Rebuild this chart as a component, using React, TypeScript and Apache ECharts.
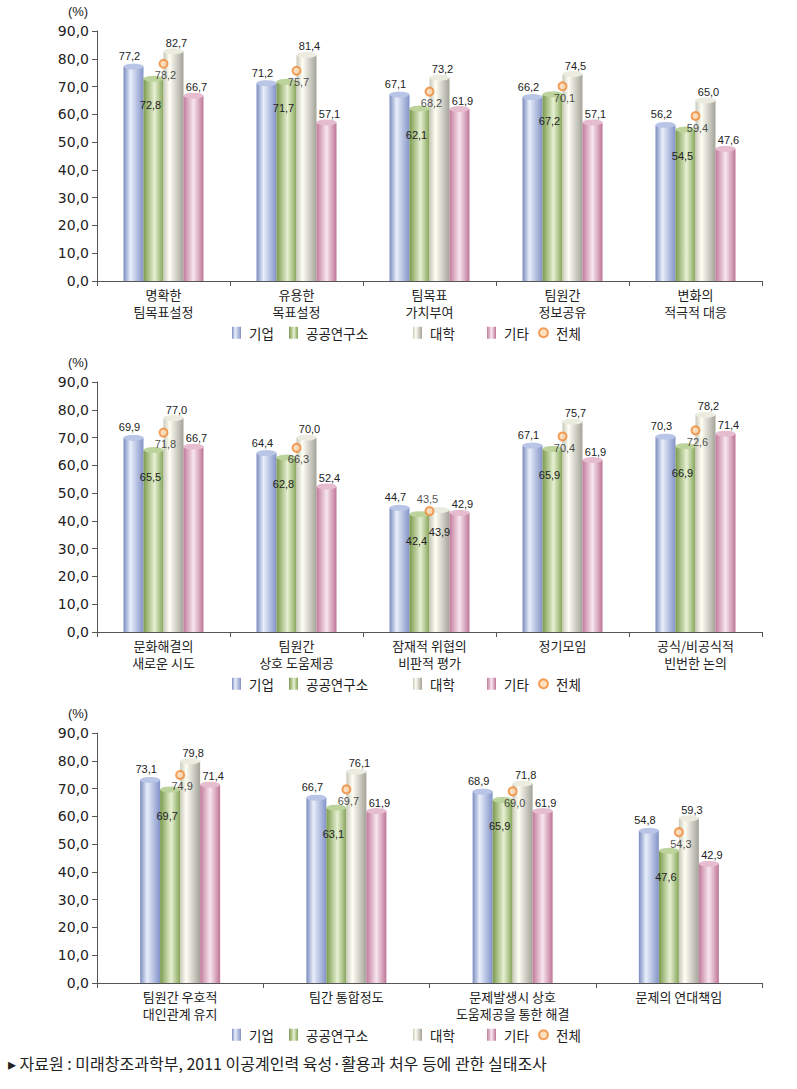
import React, { useEffect, useRef } from 'react';
import * as echarts from 'echarts';

// ---------- data ----------
const SERIES_NAMES = ['기업', '공공연구소', '대학', '기타'];
const TOTAL_NAME = '전체';

const cats1 = ['명확한\n팀목표설정', '유용한\n목표설정', '팀목표\n가치부여', '팀원간\n정보공유', '변화의\n적극적 대응'];
const firm1 = [77.2, 71.2, 67.1, 66.2, 56.2];
const inst1 = [72.8, 71.7, 62.1, 67.2, 54.5];
const univ1 = [82.7, 81.4, 73.2, 74.5, 65.0];
const etc1 = [66.7, 57.1, 61.9, 57.1, 47.6];
const total1 = [78.2, 75.7, 68.2, 70.1, 59.4];

const cats2 = ['문화해결의\n새로운 시도', '팀원간\n상호 도움제공', '잠재적 위협의\n비판적 평가', '정기모임', '공식/비공식적\n빈번한 논의'];
const firm2 = [69.9, 64.4, 44.7, 67.1, 70.3];
const inst2 = [65.5, 62.8, 42.4, 65.9, 66.9];
const univ2 = [77.0, 70.0, 43.9, 75.7, 78.2];
const etc2 = [66.7, 52.4, 42.9, 61.9, 71.4];
const total2 = [71.8, 66.3, 43.5, 70.4, 72.6];

const cats3 = ['팀원간 우호적\n대인관계 유지', '팀간 통합정도', '문제발생시 상호\n도움제공을 통한 해결', '문제의 연대책임'];
const firm3 = [73.1, 66.7, 68.9, 54.8];
const inst3 = [69.7, 63.1, 65.9, 47.6];
const univ3 = [79.8, 76.1, 71.8, 59.3];
const etc3 = [71.4, 61.9, 61.9, 42.9];
const total3 = [74.9, 69.7, 69.0, 54.3];

const yTicks = { min: 0, max: 90, interval: 10 };
const unitLabel = '(%)';
const sourceText = '▸ 자료원 : 미래창조과학부, 2011 이공계인력 육성·활용과 처우 등에 관한 실태조사';

const panels = [
  { cats: cats1, values: [firm1, inst1, univ1, etc1], total: total1 },
  { cats: cats2, values: [firm2, inst2, univ2, etc2], total: total2 },
  { cats: cats3, values: [firm3, inst3, univ3, etc3], total: total3 },
];

// ---------- style ----------
const PANEL_STEP = 351;
const GRID_TOP = 31;
const GRID_H = 250;
const GRID_LEFT = 97;
const GRID_W = 665;
const KR = '"Noto Sans CJK KR", sans-serif';
const NUM = '"Liberation Sans", Arial, sans-serif';

const fmt = (v: number) => v.toFixed(1).replace('.', ',');

const grad = (stops: [number, string][]) =>
  new echarts.graphic.LinearGradient(0, 0, 1, 0, stops.map(([offset, color]) => ({ offset, color })));

const barColors = [
  grad([[0, '#7b8cc0'], [0.35, '#e8eefa'], [1, '#8393c8']]),
  grad([[0, '#7a9a4c'], [0.55, '#e6f0d2'], [1, '#84a456']]),
  grad([[0, '#c8c8ba'], [0.3, '#fefef4'], [1, '#a3a39a']]),
  grad([[0, '#c27a9c'], [0.5, '#f7e6ee'], [1, '#bf7597']]),
];
const capColors = ['#b9c5e6', '#bcd39c', '#ebebe0', '#e6bccf'];

// label placement per bar series: [position, offset]
const labelPos: [string, [number, number]][] = [
  ['top', [-4, 0]],
  ['insideTop', [-3, 16]],
  ['top', [3, 2]],
  ['top', [3, 2]],
];
// panel 2, category 3: 대학 label inside, 전체 label above
const swapped = [{ panel: 1, index: 2 }];
const isSwapped = (p: number, i: number) => swapped.some((s) => s.panel === p && s.index === i);

const legendLefts = [232, 289, 413, 487, 538];
const legendCenterY = 333;

export default function App() {
  const ref = useRef<HTMLDivElement>(null);

  useEffect(() => {
    if (!ref.current) return;
    const chart = echarts.init(ref.current, undefined, { renderer: 'svg' });

    const grid: any[] = [];
    const xAxis: any[] = [];
    const yAxis: any[] = [];
    const series: any[] = [];
    const legend: any[] = [];
    const graphic: any[] = [];

    const labelBase = { show: true, fontSize: 11, fontFamily: NUM, color: '#222' };

    panels.forEach((pn, p) => {
      const top = GRID_TOP + p * PANEL_STEP;
      grid.push({ left: GRID_LEFT, top, width: GRID_W, height: GRID_H, containLabel: false });
      xAxis.push({
        type: 'category',
        gridIndex: p,
        data: pn.cats,
        axisLine: { show: true, lineStyle: { color: '#555', width: 1 } },
        axisTick: { show: true, length: 5, lineStyle: { color: '#555' } },
        axisLabel: { interval: 0, fontSize: 13, fontFamily: KR, color: '#222', lineHeight: 17, margin: 5 },
      });
      yAxis.push({
        type: 'value',
        gridIndex: p,
        min: yTicks.min,
        max: yTicks.max,
        interval: yTicks.interval,
        axisLine: { show: true, lineStyle: { color: '#555', width: 1 } },
        axisTick: { show: true, length: 5, lineStyle: { color: '#555' } },
        splitLine: { show: false },
        axisLabel: { formatter: (v: number) => fmt(v), fontSize: 14, fontFamily: '"DejaVu Sans", sans-serif', color: '#222', margin: 8 },
      });

      pn.values.forEach((vals, s) => {
        const [pos, off] = labelPos[s];
        series.push({
          type: 'bar',
          name: SERIES_NAMES[s],
          xAxisIndex: p,
          yAxisIndex: p,
          barWidth: 20,
          barGap: '0%',
          itemStyle: { color: barColors[s] },
          z: 2,
          data: vals.map((v, i) =>
            s === 2 && isSwapped(p, i)
              ? { value: v, label: { position: 'insideTop', offset: [0, 11] } }
              : v
          ),
          label: { ...labelBase, position: pos, offset: off, formatter: (d: any) => fmt(d.value) },
        });
        series.push({
          type: 'pictorialBar',
          name: SERIES_NAMES[s] + '_cap',
          xAxisIndex: p,
          yAxisIndex: p,
          barWidth: 20,
          barGap: '0%',
          symbol: 'circle',
          symbolSize: [20, 6],
          symbolPosition: 'end',
          symbolOffset: [0, '-50%'],
          itemStyle: { color: capColors[s] },
          silent: true,
          z: 3,
          label: { show: false },
          data: vals,
        });
      });

      series.push({
        type: 'scatter',
        name: TOTAL_NAME,
        xAxisIndex: p,
        yAxisIndex: p,
        symbol: 'circle',
        symbolSize: 8,
        itemStyle: { color: '#fdd8b0', borderColor: '#ef8836', borderWidth: 2 },
        z: 5,
        data: pn.total.map((v, i) =>
          isSwapped(p, i) ? { value: v, label: { position: 'top', distance: 2, offset: [-2, 0] } } : v
        ),
        label: { ...labelBase, position: 'bottom', distance: 1, offset: [2, 0], formatter: (d: any) => fmt(Array.isArray(d.value) ? d.value[1] : d.value) },
      });

      const names = [...SERIES_NAMES, TOTAL_NAME];
      names.forEach((nm, k) => {
        const isTotal = nm === TOTAL_NAME;
        legend.push({
          data: [nm],
          left: legendLefts[k],
          top: legendCenterY + p * PANEL_STEP - 7,
          padding: 0,
          itemWidth: 9,
          itemHeight: isTotal ? 9 : 12,
          icon: isTotal ? 'circle' : 'rect',
          selectedMode: false,
          textStyle: { fontSize: 13.5, fontFamily: KR, color: '#222', padding: [0, 0, 0, 3] },
        });
      });

      graphic.push({
        type: 'text',
        x: 78,
        y: 11 + p * PANEL_STEP,
        style: { text: unitLabel, align: 'center', verticalAlign: 'middle', font: '13px "Liberation Sans", Arial', fill: '#222' },
      });
    });

    graphic.push({
      type: 'text',
      x: 8,
      y: 1063,
      style: { text: sourceText, verticalAlign: 'middle', font: '16px "Noto Sans CJK KR"', fill: '#222' },
    });

    chart.setOption({
      animation: false,
      backgroundColor: '#ffffff',
      grid,
      xAxis,
      yAxis,
      series,
      legend,
      graphic,
    });

    return () => chart.dispose();
  }, []);

  return (
    <div
      ref={ref}
      style={{ position: 'absolute', left: 0, top: 0, width: 797, height: 1089 }}
    />
  );
}
